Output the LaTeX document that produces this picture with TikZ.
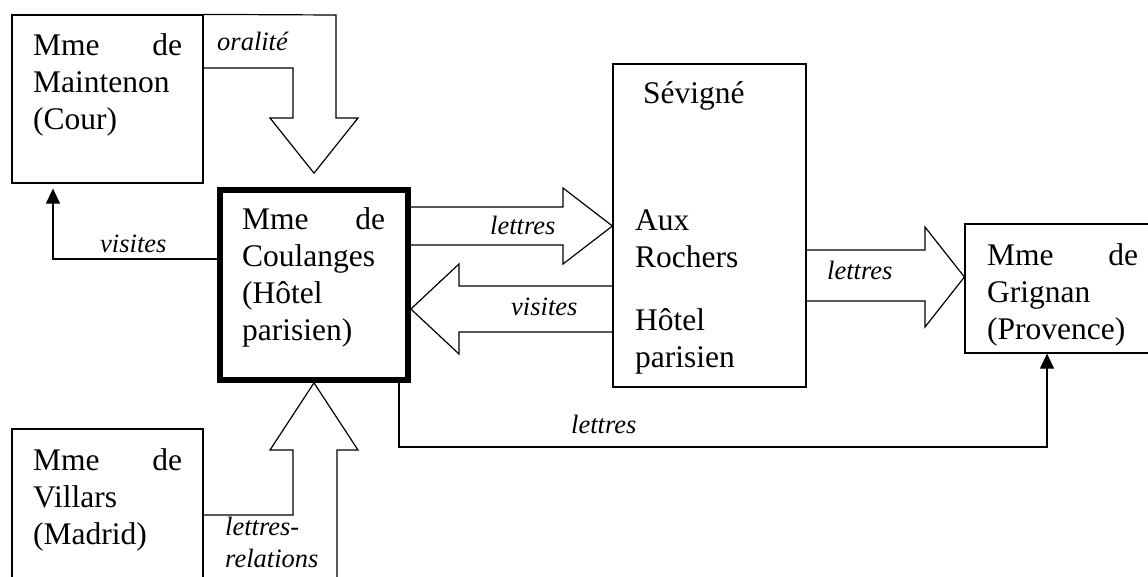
\documentclass[tikz,border=0pt]{standalone}
\usepackage{fontspec}
\setmainfont{Liberation Serif}
\usetikzlibrary{calc,arrows.meta}
\tikzset{>={Triangle[length=15pt,width=14pt]}}

\begin{document}
\begin{tikzpicture}[x=1pt,y=-1pt]
  \tikzstyle{pbox} = [draw, line width=1.2pt, rectangle, inner sep=0pt]
  \tikzstyle{btext} = [inner sep=0pt, anchor=base west, align=left, font=\fontsize{31.5}{37}\selectfont]
  \tikzstyle{lab} = [inner sep=0pt, anchor=base west, align=left, font=\fontsize{26.5}{32}\selectfont\itshape]
  \tikzstyle{fat} = [draw, line width=1.2pt, line join=miter]

  \clip (0,0) rectangle (1148,576);

  % boxes
  \node[pbox, minimum width=191pt, minimum height=168pt] (maint) at (107.5,99) {};
  \node[pbox, minimum width=191pt, minimum height=191pt] (vill) at (107.5,524.5) {};
  \node[pbox, line width=5.7pt, minimum width=188pt, minimum height=190pt] (coul) at (314,285) {};
  \node[pbox, minimum width=193pt, minimum height=323pt] (sev) at (709.5,225.5) {};
  \node[pbox, minimum width=200pt, minimum height=129pt] (grig) at (1065,288.5) {};

  % texts in boxes
  \node[btext, text width=149pt] (maintT) at (33,55) {Mme\hfill de\\Maintenon\\(Cour)};
  \node[btext, text width=149pt] (villT) at (33,470) {Mme\hfill de\\Villars\\(Madrid)};
  \node[btext, text width=143pt] (coulT) at (242,229) {Mme\hfill de\\Coulanges\\(Hôtel\\parisien)};
  \node[btext, text width=151pt] (grigT) at (987,265) {Mme\hfill de\\Grignan\\(Provence)};
  \node[btext, text width=150pt] (sevT) at (643,103) {Sévigné};
  \node[btext, text width=150pt] (sevA) at (635,230) {Aux\\Rochers};
  \node[btext, text width=150pt] (sevB) at (635,330) {Hôtel\\parisien};

  % hollow arrows
  \draw[fat] (maint.north east) -- (336,15) -- (336,118) -- (358,118) -- ($(coul.north)+(0,-14)$)
    -- (270,118) -- (293,118) -- (293,68) -- (maint.east |- 0,68);
  \draw[fat] (vill.east |- 0,515) -- (293,515) -- (293,450) -- (270,450) -- (coul.south)
    -- (358,450) -- (337,450) -- (337,600);
  \draw[fat] (coul.east |- 0,207) -- (563,207) -- (563,188) -- (sev.west |- 0,226)
    -- (563,264) -- (563,245) -- (coul.east |- 0,245);
  \draw[fat] (sev.west |- 0,286) -- (459,286) -- (459,264) -- (coul.east |- 0,309)
    -- (459,354) -- (459,332) -- (sev.west |- 0,332);
  \draw[fat] (sev.east |- 0,250) -- (925,250) -- (925,227) -- (grig.west |- 0,277)
    -- (925,327) -- (925,301) -- (sev.east |- 0,301);

  % thin arrows
  \draw[->, line width=1.2pt, shorten >=5pt] (coul.west |- 0,259) -| (53,0 |- maint.south);
  \draw[->, line width=1.2pt] (399,0 |- coul.south) -- (399,447) -| (1047,0 |- grig.south);

  % labels
  \node[lab] (lOral) at (217,50) {oralité};
  \node[lab] (lVisL) at (100,252) {visites};
  \node[lab] (lLetA) at (490,234) {lettres};
  \node[lab] (lVisR) at (511,315) {visites};
  \node[lab] (lLetB) at (827,279) {lettres};
  \node[lab] (lLetC) at (571,433) {lettres};
  \node[lab, text width=100pt] (lRel) at (225,535) {lettres-\\relations};
\end{tikzpicture}
\end{document}
